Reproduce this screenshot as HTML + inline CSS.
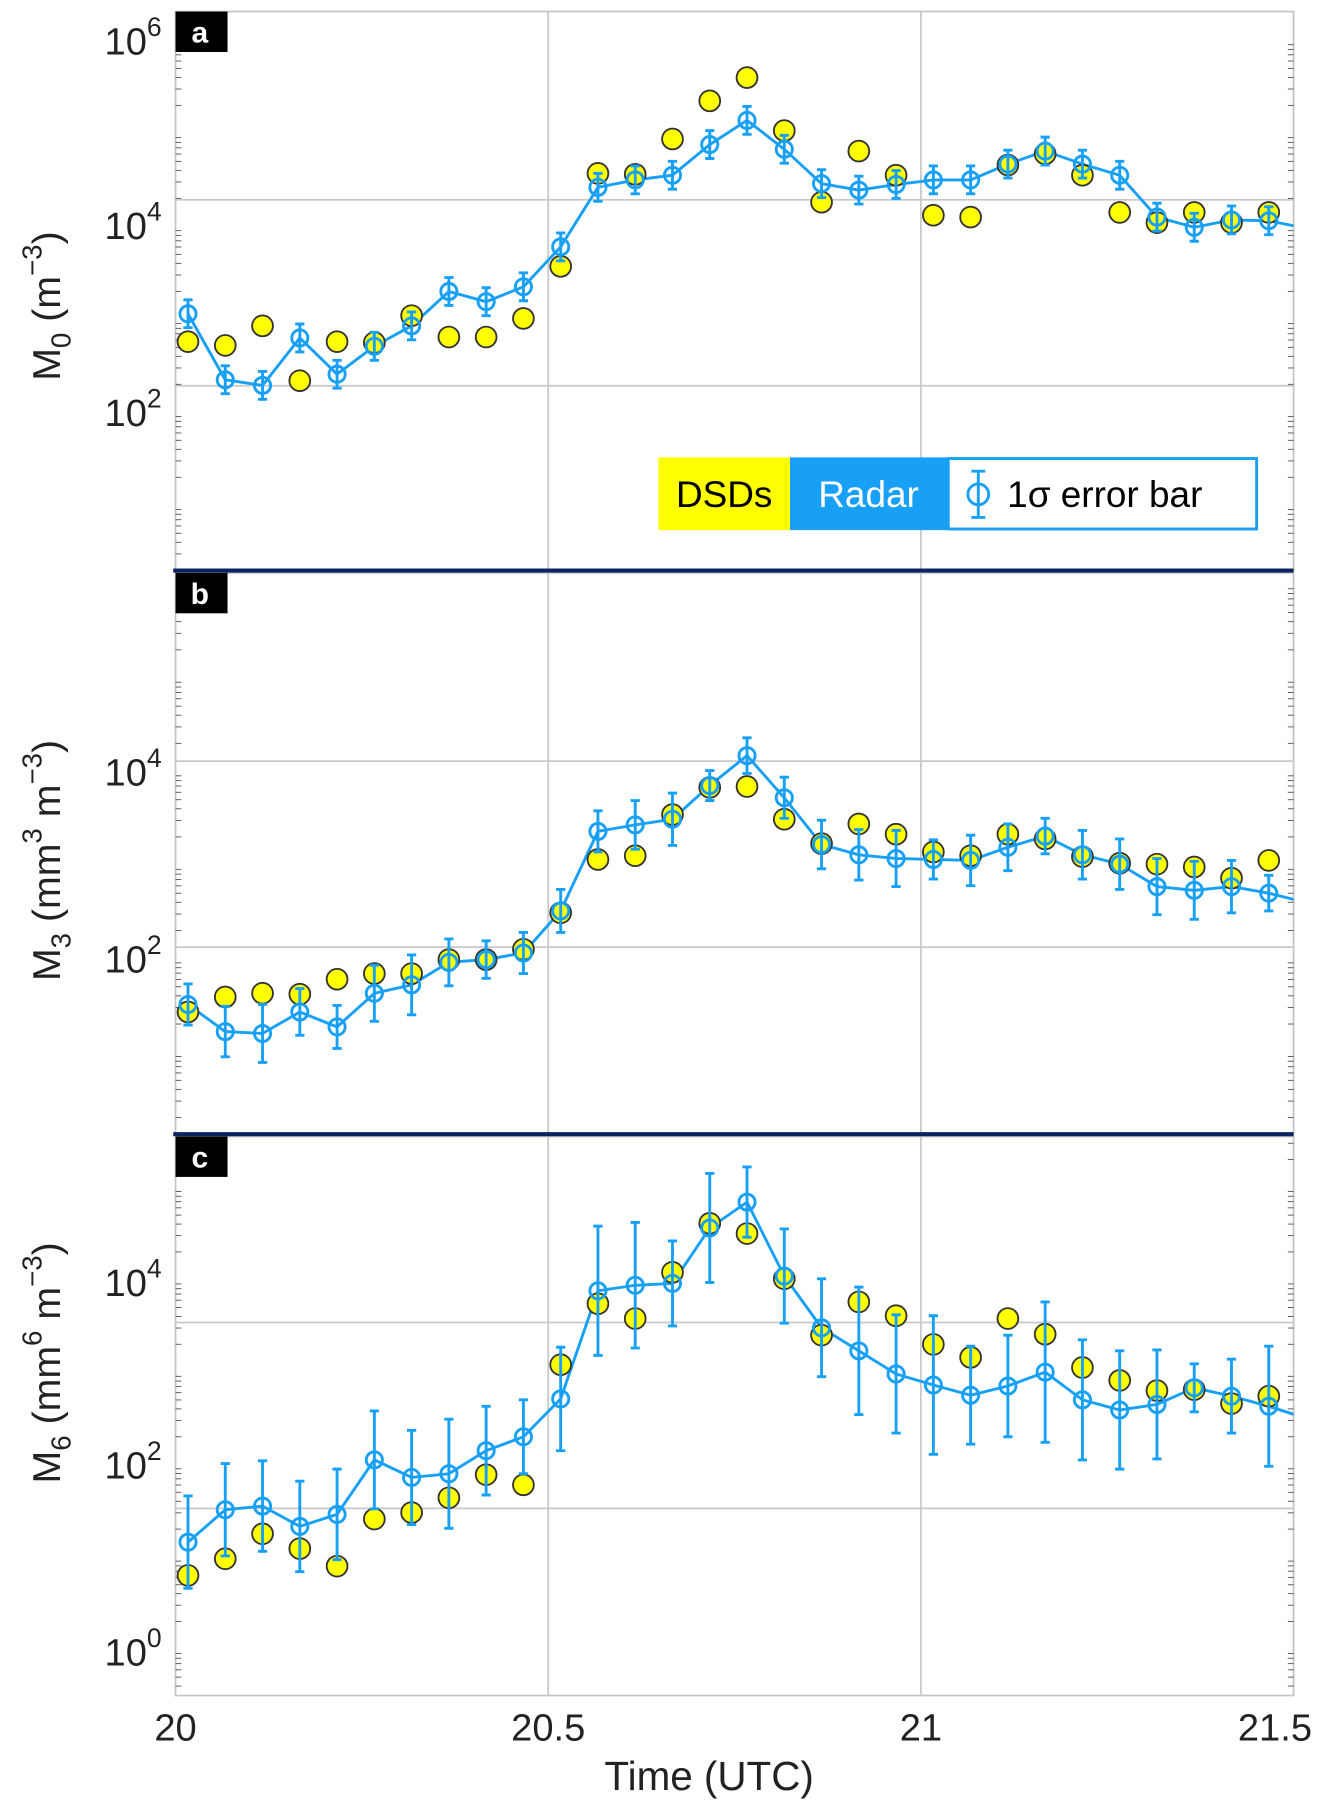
<!DOCTYPE html>
<html><head><meta charset="utf-8">
<style>
html,body{margin:0;padding:0;background:#fff;}
svg{display:block;}
text{font-family:"Liberation Sans","DejaVu Sans",sans-serif;}
</style></head>
<body>
<svg id="chart" width="1319" height="1808" viewBox="0 0 1142 1565.4" preserveAspectRatio="none" xmlns="http://www.w3.org/2000/svg">
<defs>
<clipPath id="clipA"><rect x="152" y="10" width="968" height="484"/></clipPath>
<clipPath id="clipB"><rect x="152" y="496" width="968" height="486"/></clipPath>
<clipPath id="clipC"><rect x="152" y="984" width="968" height="484"/></clipPath>
</defs>
<g id="static"></g>
<g id="marks"></g>
</svg>
<script>
// ---- data (log10 of values) ----
const times = [20.0167,20.0667,20.1167,20.1667,20.2167,20.2667,20.3167,20.3667,20.4167,20.4667,20.5167,20.5667,20.6167,20.6667,20.7167,20.7667,20.8167,20.8667,20.9167,20.9667,21.0167,21.0667,21.1167,21.1667,21.2167,21.2667,21.3167,21.3667,21.4167,21.4667,21.5167];
const m0RadarLog = [3.06,2.35,2.29,2.80,2.41,2.71,2.93,3.30,3.19,3.35,3.78,4.42,4.50,4.55,4.88,5.14,4.83,4.46,4.39,4.45,4.50,4.50,4.67,4.81,4.67,4.55,4.10,3.99,4.07,4.06,3.98];
const m0ErrLog = [0.15,0.15,0.15,0.15,0.15,0.15,0.15,0.15,0.15,0.15,0.15,0.15,0.15,0.15,0.15,0.15,0.15,0.15,0.15,0.15,0.15,0.15,0.15,0.15,0.15,0.15,0.15,0.15,0.15,0.15,0.15];
const m0DsdLog = [2.76,2.72,2.93,2.34,2.76,2.75,3.04,2.81,2.81,3.01,3.57,4.57,4.56,4.94,5.35,5.60,5.03,4.26,4.81,4.55,4.12,4.10,4.66,4.78,4.55,4.15,4.04,4.15,4.04,4.15];
const m3RadarLog = [1.51,1.22,1.20,1.43,1.27,1.63,1.72,1.96,1.99,2.06,2.51,3.36,3.43,3.49,3.85,4.17,3.72,3.22,3.11,3.07,3.06,3.05,3.19,3.31,3.11,3.01,2.77,2.73,2.77,2.70,2.60];
const m3ErrLog = [0.22,0.27,0.31,0.25,0.23,0.30,0.32,0.25,0.20,0.22,0.23,0.22,0.26,0.28,0.16,0.19,0.22,0.26,0.27,0.30,0.21,0.27,0.25,0.19,0.26,0.27,0.30,0.31,0.28,0.19,0.2];
const m3DsdLog = [1.43,1.59,1.63,1.62,1.78,1.84,1.84,1.99,1.99,2.10,2.49,3.06,3.10,3.54,3.83,3.84,3.49,3.23,3.44,3.33,3.14,3.10,3.33,3.28,3.09,3.02,3.01,2.98,2.86,3.05];
const m6RadarLog = [1.16,1.51,1.55,1.33,1.46,2.05,1.86,1.90,2.15,2.30,2.71,3.88,3.94,3.96,4.56,4.84,4.04,3.48,3.23,2.98,2.86,2.75,2.85,3.00,2.70,2.59,2.65,2.83,2.74,2.63,2.50];
const m6ErrLog = [0.50,0.50,0.49,0.49,0.49,0.53,0.51,0.59,0.48,0.40,0.56,0.70,0.68,0.46,0.59,0.38,0.51,0.53,0.69,0.64,0.75,0.53,0.55,0.76,0.65,0.64,0.59,0.26,0.40,0.65,0.6];
const m6DsdLog = [0.80,0.98,1.25,1.09,0.90,1.41,1.48,1.64,1.89,1.78,3.08,3.74,3.58,4.08,4.61,4.50,4.01,3.40,3.76,3.61,3.30,3.16,3.58,3.41,3.05,2.91,2.80,2.81,2.66,2.74];
const xTicks = [20,20.5,21,21.5];
const xTickLabels = ["20","20.5","21","21.5"];

const NS="http://www.w3.org/2000/svg";
const X0=152,X1=1120;
function xs(t){return X0+(t-20)/1.5*(X1-X0);}
function mk(tag,attrs,parent){const e=document.createElementNS(NS,tag);for(const k in attrs)e.setAttribute(k,attrs[k]);parent.appendChild(e);return e;}
const st=document.getElementById('static'), mg=document.getElementById('marks');
const BLUE="#18a0f7";

const panels=[
 {id:'a',top:10,bot:494,grid:[173,334],labY:[35,195,357],labE:[6,4,2],refY:357,refE:2,dec:80.5,radar:m0RadarLog,err:m0ErrLog,dsd:m0DsdLog,clip:'clipA',title:['M','0',' (m','−3',')'],titleY:265},
 {id:'b',top:496,bot:982,grid:[659,820],labY:[668,830],labE:[4,2],refY:830,refE:2,dec:81,radar:m3RadarLog,err:m3ErrLog,dsd:m3DsdLog,clip:'clipB',title:['M','3',' (mm','3',' m','−3',')'],titleY:745},
 {id:'c',top:984,bot:1468,grid:[1145,1306],labY:[1110,1268,1430],labE:[4,2,0],refY:1268,refE:2,dec:80,radar:m6RadarLog,err:m6ErrLog,dsd:m6DsdLog,clip:'clipC',title:['M','6',' (mm','6',' m','−3',')'],titleY:1180}
];

panels.forEach(p=>{
  const ys=v=>p.refY-(v-p.refE)*p.dec;
  const g=mk('g',{},st);
  
  
  mk('rect',{x:X0,y:p.top,width:X1-X0,height:p.bot-p.top,fill:'#fff',stroke:'#c4c4c4','stroke-width':1.5},g);
  p.grid.forEach(gy=>{const l=mk('line',{x1:X0,x2:X1,y1:gy,y2:gy,stroke:'#c8c8c8','stroke-width':1.5},g);
    });
  [20.5,21].forEach(t=>{const l=mk('line',{x1:xs(t),x2:xs(t),y1:p.top,y2:p.bot,stroke:'#c8c8c8','stroke-width':1.5},g);
    });
  // minor ticks
  for(let e=-1;e<7;e++){for(let m=2;m<10;m++){const yy=ys(e+Math.log10(m));if(yy>p.top+2&&yy<p.bot-2){
    mk('line',{x1:X0,x2:X0+5,y1:yy,y2:yy,stroke:'#555','stroke-width':0.8},g);
    mk('line',{x1:X1-5,x2:X1,y1:yy,y2:yy,stroke:'#555','stroke-width':0.8},g);}}}
  // panel letter
  const bx=mk('rect',{x:X0,y:p.top,width:45,height:35,fill:'#000'},g);
  
  const lt=mk('text',{x:X0+21,y:p.top+27,'font-size':26,'font-weight':'bold',fill:'#fff','text-anchor':'middle'},g);lt.textContent=p.id;
  
  // y tick labels
  p.labY.forEach((yy,i)=>{const t=mk('text',{x:140,y:yy+12,'font-size':33,fill:'#222','text-anchor':'end'},g);
    
    t.innerHTML='10<tspan dy="-16" font-size="23">'+p.labE[i]+'</tspan>';});
  // y title
  const tt=mk('text',{transform:`translate(52,${p.titleY}) rotate(-90)`,'font-size':34,fill:'#222','text-anchor':'middle'},g);
  
  let h='';p.title.forEach((s,i)=>{
    if(i===1) h+=`<tspan dy="9" font-size="24">${s}</tspan>`;
    else if(i===2) h+=`<tspan dy="-9">${s}</tspan>`;
    else if(s.startsWith('−')||/^\d$/.test(s)) h+=`<tspan dy="-16" font-size="24">${s}</tspan>`;
    else if(i>2) h+=`<tspan dy="16">${s}</tspan>`;
    else h+=s;});
  tt.innerHTML=h;

  // marks
  const mgp=mk('g',{'clip-path':`url(#${p.clip})`},mg);
  
  
  let d='';p.radar.forEach((v,i)=>{d+=(i?'L':'M')+xs(times[i]).toFixed(1)+','+ys(v).toFixed(1);});
  const ln=mk('path',{d:d,fill:'none',stroke:BLUE,'stroke-width':2.5},mgp);
  
  p.dsd.forEach((v,i)=>{const c=mk('circle',{cx:xs(times[i]),cy:ys(v),r:9,fill:'#ffff00',stroke:'#333','stroke-width':1.6},mgp);
    });
  p.radar.forEach((v,i)=>{const x=xs(times[i]),y1=ys(v+p.err[i]),y2=ys(v-p.err[i]);
    const eb=mk('path',{d:`M${x},${y1}L${x},${y2}M${x-4},${y1}L${x+4},${y1}M${x-4},${y2}L${x+4},${y2}`,stroke:BLUE,'stroke-width':2.5,fill:'none'},mgp);
    
    const c=mk('circle',{cx:x,cy:ys(v),r:7,fill:'none',stroke:BLUE,'stroke-width':2.5},mgp);
    });
});
// separators
[494,982].forEach(yy=>{const l=mk('line',{x1:150,x2:1120,y1:yy,y2:yy,stroke:'#0b2461','stroke-width':3.5},st);
  });
// x ticks
xTicks.forEach((t,i)=>{const tx=mk('text',{x:i===3?1136:xs(t),y:1507,'font-size':33,fill:'#222','text-anchor':i===3?'end':'middle'},st);
  tx.textContent=xTickLabels[i];
  });
const xt=mk('text',{x:614,y:1550,'font-size':35,fill:'#222','text-anchor':'middle'},st);xt.textContent='Time (UTC)';

// legend
const lg=mk('g',{},mg);

mk('rect',{x:570,y:396,width:114,height:63,fill:'#ffff00'},lg);
mk('rect',{x:684,y:396,width:136,height:63,fill:BLUE},lg);
mk('rect',{x:821,y:397,width:267,height:61,fill:'#fff',stroke:BLUE,'stroke-width':2.5},lg);
const l1=mk('text',{x:627,y:439,'font-size':32,fill:'#000','text-anchor':'middle'},lg);l1.textContent='DSDs';

const l2=mk('text',{x:752,y:439,'font-size':32,fill:'#fff','text-anchor':'middle'},lg);l2.textContent='Radar';

mk('path',{d:'M847,408L847,448M841,408L853,408M841,448L853,448',stroke:BLUE,'stroke-width':2.5,fill:'none'},lg);
mk('circle',{cx:847,cy:428,r:9,fill:'none',stroke:BLUE,'stroke-width':2.5},lg);
const l3=mk('text',{x:872,y:439,'font-size':32,fill:'#000'},lg);l3.textContent='1σ error bar';

</script>
</body></html>
